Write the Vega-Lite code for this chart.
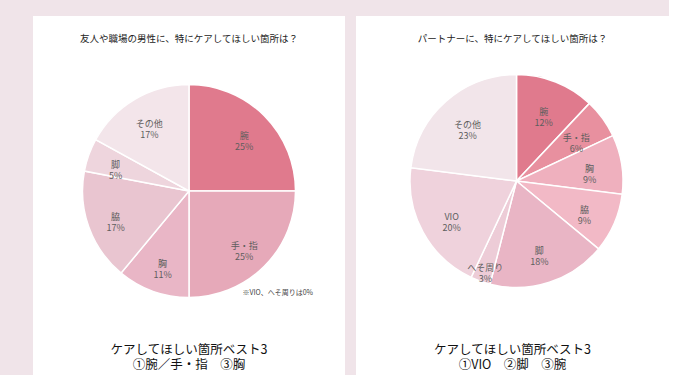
{
  "$schema": "https://vega.github.io/schema/vega-lite/v6.json",
  "background": "#f0e4e9",
  "padding": {"left": 33, "top": 16, "right": 0, "bottom": 0},
  "config": {"font": "Noto Sans CJK JP", "view": {"stroke": null}, "concat": {"spacing": 11}},
  "resolve": {"scale": {"color": "independent", "theta": "independent"}},
  "datasets": {
    "left": [
      {"part": "腕", "pct": 25, "idx": 1},
      {"part": "手・指", "pct": 25, "idx": 2},
      {"part": "胸", "pct": 11, "idx": 3},
      {"part": "脇", "pct": 17, "idx": 4},
      {"part": "脚", "pct": 5, "idx": 5},
      {"part": "その他", "pct": 17, "idx": 6}
    ],
    "right": [
      {"part": "腕", "pct": 12, "idx": 1},
      {"part": "手・指", "pct": 6, "idx": 2},
      {"part": "胸", "pct": 9, "idx": 3},
      {"part": "脇", "pct": 9, "idx": 4},
      {"part": "脚", "pct": 18, "idx": 5},
      {"part": "へそ周り", "pct": 3, "idx": 6},
      {"part": "VIO", "pct": 20, "idx": 7},
      {"part": "その他", "pct": 23, "idx": 8}
    ]
  },
  "hconcat": [
    {
      "title": {"text": "友人や職場の男性に、特にケアしてほしい箇所は？", "orient": "top", "anchor": "middle", "offset": -27, "fontSize": 9.5, "fontWeight": "normal", "color": "#222222"},
      "resolve": {"scale": {"color": "independent", "theta": "independent"}},
      "vconcat": [
        {
          "title": {"text": ["ケアしてほしい箇所ベスト3", "①腕／手・指　③胸"], "orient": "bottom", "anchor": "middle", "offset": -31, "fontSize": 12.5, "lineHeight": 14.5, "fontWeight": "normal", "color": "#111111"},
          "resolve": {"scale": {"color": "independent", "theta": "independent"}},
          "vconcat": [
            {
              "title": {"text": "※VIO、へそ周りは0%", "orient": "bottom", "anchor": "end", "offset": -86, "dx": -32, "fontSize": 7, "fontWeight": "normal", "color": "#444444"},
              "width": 312,
              "height": 359,
              "view": {"fill": "white", "stroke": null},
              "data": {"name": "left"},
              "transform": [{"calculate": "[datum.part, datum.pct + '%']", "as": "label"}],
              "encoding": {
                "theta": {"field": "pct", "type": "quantitative", "stack": true},
                "order": {"field": "idx", "type": "quantitative"}
              },
              "layer": [
                {
                  "mark": {"type": "arc", "outerRadius": 106.5, "stroke": "white", "strokeWidth": 1.5, "yOffset": -4.5},
                  "encoding": {
                    "color": {"field": "part", "type": "nominal", "legend": null,
                      "scale": {"domain": ["腕", "手・指", "胸", "脇", "脚", "その他"],
                                "range": ["#e07a8d", "#e6a9b9", "#e9b6c6", "#e9c5d0", "#eed5dd", "#f3e5ea"]}}
                  }
                },
                {
                  "mark": {"type": "text", "radius": 78, "fontSize": 9, "lineHeight": 11, "color": "#5e5e5e", "yOffset": -4.5},
                  "encoding": {"text": {"field": "label"}}
                }
              ]
            }
          ]
        }
      ]
    },
    {
      "title": {"text": "パートナーに、特にケアしてほしい箇所は？", "orient": "top", "anchor": "middle", "offset": -27, "fontSize": 9.5, "fontWeight": "normal", "color": "#222222"},
      "resolve": {"scale": {"color": "independent", "theta": "independent"}},
      "vconcat": [
        {
          "title": {"text": ["ケアしてほしい箇所ベスト3", "①VIO　②脚　③腕"], "orient": "bottom", "anchor": "middle", "offset": -31, "fontSize": 12.5, "lineHeight": 14.5, "fontWeight": "normal", "color": "#111111"},
          "resolve": {"scale": {"color": "independent", "theta": "independent"}},
          "vconcat": [
            {
              "width": 313,
              "height": 359,
              "view": {"fill": "white", "stroke": null},
              "data": {"name": "right"},
              "transform": [{"calculate": "[datum.part, datum.pct + '%']", "as": "label"}],
              "encoding": {
                "theta": {"field": "pct", "type": "quantitative", "stack": true},
                "order": {"field": "idx", "type": "quantitative"}
              },
              "layer": [
                {
                  "mark": {"type": "arc", "outerRadius": 106.5, "stroke": "white", "strokeWidth": 1.5, "xOffset": 4, "yOffset": -14.5},
                  "encoding": {
                    "color": {"field": "part", "type": "nominal", "legend": null,
                      "scale": {"domain": ["腕", "手・指", "胸", "脇", "脚", "へそ周り", "VIO", "その他"],
                                "range": ["#e07a8d", "#e8909f", "#efb0be", "#f2b9c6", "#e9b5c5", "#edccd7", "#efd2dc", "#f2e5ea"]}}
                  }
                },
                {
                  "mark": {"type": "text", "radius": 74, "fontSize": 9, "lineHeight": 11, "color": "#5e5e5e", "xOffset": 4, "yOffset": -14.5},
                  "encoding": {
                    "text": {"field": "label"},
                    "opacity": {"condition": {"test": "datum.part === 'へそ周り'", "value": 0}, "value": 1}
                  }
                },
                {
                  "mark": {"type": "text", "radius": 92, "fontSize": 9, "lineHeight": 11, "color": "#5e5e5e", "xOffset": 4, "yOffset": -14.5},
                  "encoding": {
                    "text": {"field": "label"},
                    "opacity": {"condition": {"test": "datum.part === 'へそ周り'", "value": 1}, "value": 0}
                  }
                }
              ]
            }
          ]
        }
      ]
    }
  ]
}
